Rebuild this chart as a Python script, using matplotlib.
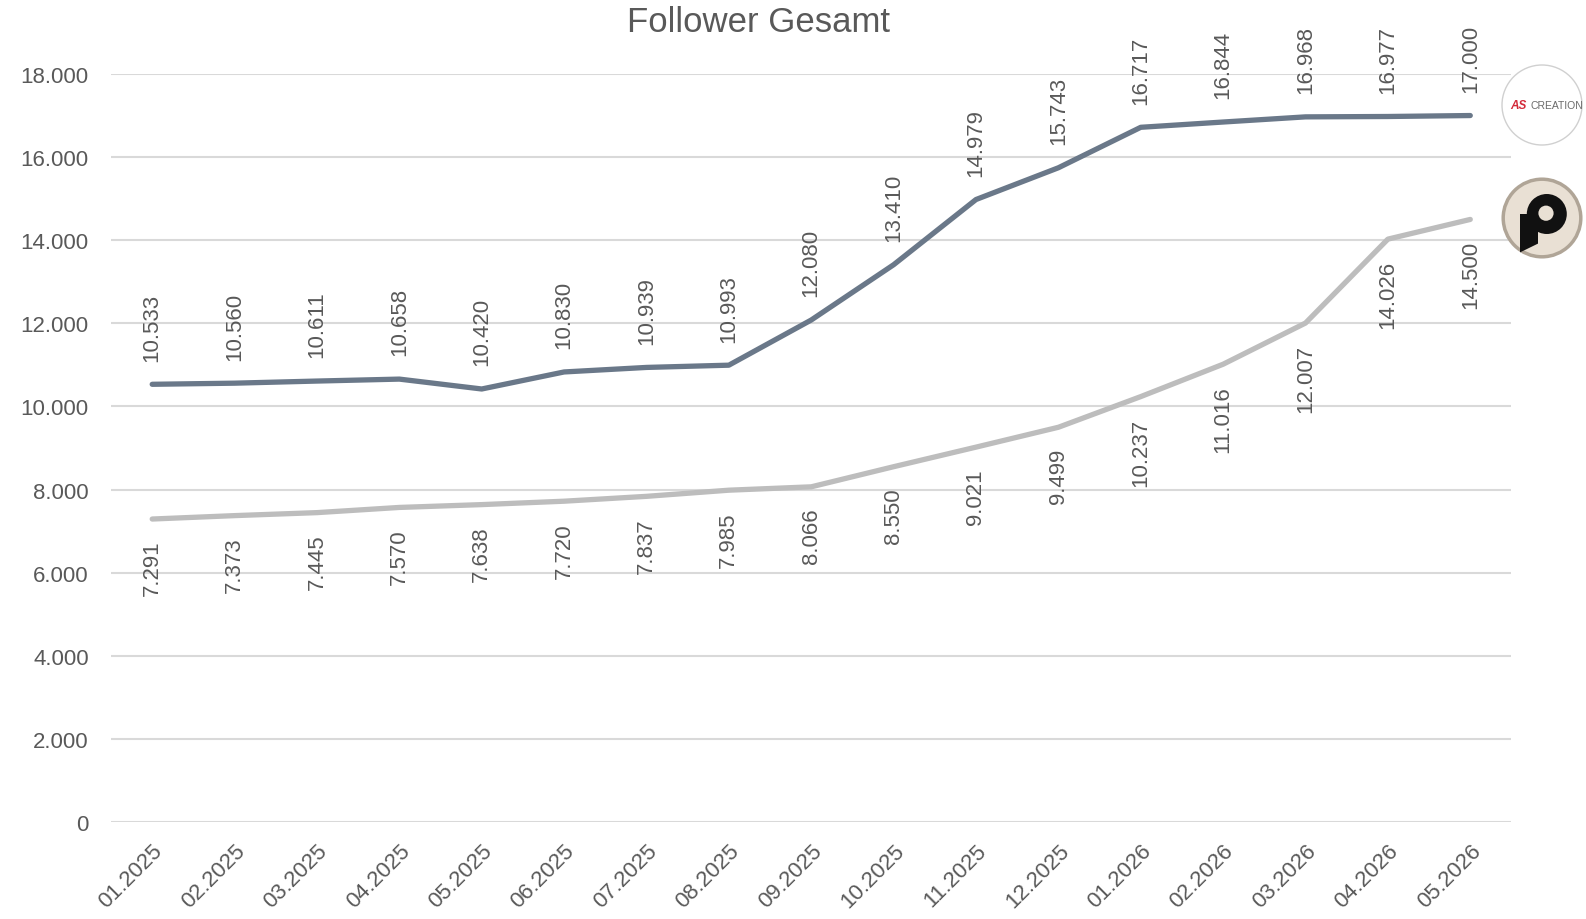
import numpy as np
import matplotlib
matplotlib.use("Agg")
import matplotlib.pyplot as plt
from matplotlib.patches import Circle, Polygon

plt.rcParams['font.family'] = ['Liberation Sans', 'DejaVu Sans']

# data
months = ['01.2025', '02.2025', '03.2025', '04.2025', '05.2025', '06.2025',
          '07.2025', '08.2025', '09.2025', '10.2025', '11.2025', '12.2025',
          '01.2026', '02.2026', '03.2026', '04.2026', '05.2026']
as_creation = [10533, 10560, 10611, 10658, 10420, 10830, 10939, 10993, 12080,
               13410, 14979, 15743, 16717, 16844, 16968, 16977, 17000]
p_brand = [7291, 7373, 7445, 7570, 7638, 7720, 7837, 7985, 8066,
           8550, 9021, 9499, 10237, 11016, 12007, 14026, 14500]
y_ticks = [0, 2000, 4000, 6000, 8000, 10000, 12000, 14000, 16000, 18000]

dark = '#6a7889'
light = '#bdbdbd'
txt = '#595959'


def de_fmt(v):
    return f"{v:,}".replace(',', '.')


fig = plt.figure(figsize=(15.86, 9.2), dpi=100)
ax = fig.add_axes([0.070, 0.1054, 0.883, 0.8131])

x = np.arange(len(months))
ax.plot(x, as_creation, color=dark, lw=3.8, solid_capstyle='round', zorder=3)
ax.plot(x, p_brand, color=light, lw=3.8, solid_capstyle='round', zorder=3)

for xi, v in zip(x, as_creation):
    ax.annotate(de_fmt(v), (xi, v), xytext=(0, 17), textcoords='offset points',
                rotation=90, ha='center', va='bottom', fontsize=16, color=txt)
for xi, v in zip(x, p_brand):
    ax.annotate(de_fmt(v), (xi, v), xytext=(0, -15), textcoords='offset points',
                rotation=90, ha='center', va='top', fontsize=16, color=txt)

ax.set_xlim(-0.5, len(months) - 0.5)
ax.set_ylim(0, 18000)
ax.set_yticks(y_ticks)
ax.set_yticklabels([de_fmt(t) for t in y_ticks])
ax.set_xticks(x)
ax.set_xticklabels(months, rotation=45, ha='right', rotation_mode='anchor')
ax.tick_params(axis='both', length=0, labelsize=16, labelcolor=txt)
ax.tick_params(axis='y', pad=16)
ax.tick_params(axis='x', pad=13)
ax.grid(axis='y', color='#d9d9d9', lw=1.5)
ax.set_axisbelow(True)
for s in ax.spines.values():
    s.set_visible(False)

fig.text(0.478, 0.976, 'Follower Gesamt', ha='center', va='center',
         fontsize=25, color=txt)

# logo 1: AS CREATION
lax1 = fig.add_axes([1500 / 1586, 1 - 148 / 920, 84 / 1586, 84 / 920])
lax1.set_xlim(-1.05, 1.05)
lax1.set_ylim(-1.05, 1.05)
lax1.set_aspect('equal')
lax1.axis('off')
lax1.add_patch(Circle((0, 0), 1, facecolor='white', edgecolor='#d0d0d0', lw=1))
lax1.text(-0.80, 0, 'AS', color='#d32a3a', fontsize=8.5, fontweight='bold',
          fontstyle='italic', ha='left', va='center')
lax1.text(-0.28, 0, 'CREATION', color='#6b6b6b', fontsize=7.5,
          ha='left', va='center')

# logo 2: P
lax2 = fig.add_axes([1500 / 1586, 1 - 261 / 920, 84 / 1586, 84 / 920])
lax2.set_xlim(-1.05, 1.05)
lax2.set_ylim(-1.05, 1.05)
lax2.set_aspect('equal')
lax2.axis('off')
lax2.add_patch(Circle((0, 0), 0.97, facecolor='#e9e0d4', edgecolor='#b0a597', lw=2.5))
lax2.add_patch(Polygon([(-0.55, 0.10), (-0.10, 0.10), (-0.10, -0.64),
                        (-0.55, -0.86)], closed=True, facecolor='#111111'))
lax2.add_patch(Circle((0.12, 0.10), 0.50, facecolor='#111111'))
lax2.add_patch(Circle((0.10, 0.12), 0.19, facecolor='#e9e0d4'))

fig.savefig('out.png', dpi=100)
